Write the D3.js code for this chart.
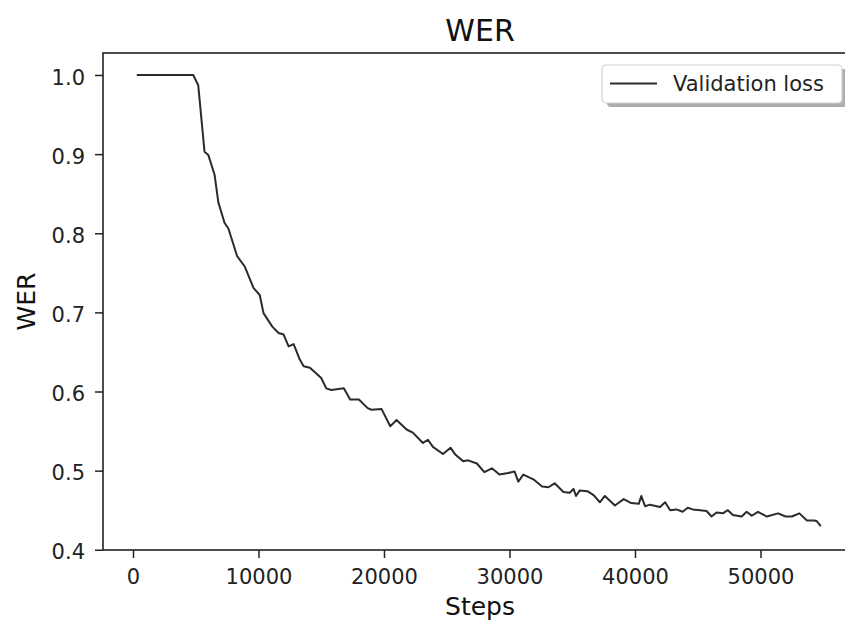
<!DOCTYPE html>
<html>
<head>
<meta charset="utf-8">
<script src="https://cdn.jsdelivr.net/npm/d3@7"></script>
<style>
  body { margin: 0; background: #fff; }
  svg { display: block; font-family: "DejaVu Sans", sans-serif; }
</style>
</head>
<body>
<div class="chart"></div>
<script>
// chart size and plot box
const width = 845;
const height = 621;
const margin = { top: 53, right: -12, bottom: 71, left: 103 };

// validation WER
const steps = [300, 4800, 5200, 5700, 6000, 6500, 6800, 7300, 7600, 8300, 8900, 9600,
  10100, 10400, 11100, 11600, 12000, 12400, 12800, 13300, 13600, 14100, 15000, 15400,
  15800, 16800, 17300, 18000, 18700, 19000, 19800, 20500, 21000, 21800, 22300, 23100,
  23500, 23900, 24700, 25300, 25700, 26300, 26700, 27400, 28000, 28600, 29200, 29900,
  30400, 30700, 31100, 31900, 32600, 33100, 33600, 34300, 34800, 35100, 35300, 35600,
  36200, 36700, 37200, 37600, 38400, 39100, 39700, 40300, 40500, 40800, 41200, 42000,
  42400, 42800, 43300, 43800, 44200, 44600, 45200, 45700, 46100, 46500, 47000, 47400,
  47800, 48500, 48900, 49300, 49800, 50500, 51400, 52000, 52500, 53100, 53700, 54300,
  54500, 54800];
const wer = [1.0, 1.0, 0.987, 0.903, 0.899, 0.874, 0.839, 0.813, 0.806, 0.771, 0.758, 0.731,
  0.722, 0.699, 0.682, 0.674, 0.672, 0.657, 0.660, 0.640, 0.632, 0.630, 0.617, 0.604,
  0.602, 0.604, 0.590, 0.590, 0.579, 0.577, 0.578, 0.556, 0.564, 0.552, 0.548, 0.535,
  0.539, 0.530, 0.521, 0.529, 0.520, 0.512, 0.513, 0.509, 0.498, 0.503, 0.495, 0.497,
  0.499, 0.486, 0.495, 0.489, 0.480, 0.479, 0.484, 0.473, 0.472, 0.477, 0.468, 0.475,
  0.474, 0.469, 0.460, 0.468, 0.456, 0.464, 0.459, 0.458, 0.468, 0.455, 0.457, 0.454,
  0.460, 0.450, 0.451, 0.448, 0.453, 0.451, 0.450, 0.449, 0.442, 0.447, 0.446, 0.450,
  0.444, 0.442, 0.448, 0.443, 0.448, 0.442, 0.446, 0.442, 0.442, 0.446, 0.437, 0.437,
  0.436, 0.430];

const xTicks = [0, 10000, 20000, 30000, 40000, 50000];
const yTicks = [0.4, 0.5, 0.6, 0.7, 0.8, 0.9, 1.0];

const seriesName = "Validation loss";
const ink = "#222";

const data = steps.map((s, i) => ({ step: s, wer: wer[i] }));

const svg = d3.select('.chart')
  .append('svg')
  .attr('width', width)
  .attr('height', height);

const x = d3.scaleLinear()
  .domain([-2390, 57690])
  .range([margin.left, width - margin.right]);

const y = d3.scaleLinear()
  .domain([0.3997, 1.0278])
  .range([height - margin.bottom, margin.top]);

// axes
svg.append('g')
  .attr('transform', `translate(0, ${height - margin.bottom})`)
  .call(d3.axisBottom(x).tickValues(xTicks).tickFormat(d3.format('d'))
    .tickSize(8).tickSizeOuter(0).tickPadding(11))
  .call(g => g.select('.domain').remove())
  .call(g => g.selectAll('line').attr('stroke', ink).attr('stroke-width', 1.5))
  .call(g => g.selectAll('text').attr('fill', ink).style('font-size', '21px')
    .style('font-family', '"DejaVu Sans", sans-serif'));

svg.append('g')
  .attr('transform', `translate(${margin.left}, 0)`)
  .call(d3.axisLeft(y).tickValues(yTicks).tickFormat(d3.format('.1f'))
    .tickSize(8).tickSizeOuter(0).tickPadding(10))
  .call(g => g.select('.domain').remove())
  .call(g => g.selectAll('line').attr('stroke', ink).attr('stroke-width', 1.5))
  .call(g => g.selectAll('text').attr('fill', ink).attr('dy', '0.43em').style('font-size', '21px')
    .style('font-family', '"DejaVu Sans", sans-serif'));

// the curve
const line = d3.line()
  .x(d => x(d.step))
  .y(d => y(d.wer));

svg.append('path')
  .datum(data)
  .attr('fill', 'none')
  .attr('stroke', '#2b2b2b')
  .attr('stroke-width', 2)
  .attr('stroke-linejoin', 'round')
  .attr('d', line);

// spines
svg.append('rect')
  .attr('x', margin.left)
  .attr('y', margin.top)
  .attr('width', width - margin.right - margin.left)
  .attr('height', height - margin.bottom - margin.top)
  .attr('fill', 'none')
  .attr('stroke', ink)
  .attr('stroke-width', 1.6);

// titles
const cx = (margin.left + width - margin.right) / 2;
svg.append('text')
  .attr('x', cx)
  .attr('y', 41)
  .attr('text-anchor', 'middle')
  .attr('fill', '#111')
  .style('font-size', '30px')
  .text('WER');

svg.append('text')
  .attr('x', cx)
  .attr('y', 615)
  .attr('text-anchor', 'middle')
  .attr('fill', '#111')
  .style('font-size', '25px')
  .text('Steps');

svg.append('text')
  .attr('transform', `translate(35, ${(margin.top + height - margin.bottom) / 2}) rotate(-90)`)
  .attr('text-anchor', 'middle')
  .attr('fill', '#111')
  .style('font-size', '25px')
  .text('WER');

// legend
const legend = svg.append('g').attr('transform', 'translate(602, 65)');
legend.append('rect')
  .attr('x', 5).attr('y', 4)
  .attr('width', 240).attr('height', 38)
  .attr('rx', 4)
  .attr('fill', '#777')
  .attr('opacity', 0.6);
legend.append('rect')
  .attr('width', 240).attr('height', 38)
  .attr('rx', 4)
  .attr('fill', '#fff')
  .attr('stroke', '#d0d0d0')
  .attr('stroke-width', 1.2);
legend.append('line')
  .attr('x1', 8).attr('x2', 55)
  .attr('y1', 18.5).attr('y2', 18.5)
  .attr('stroke', '#2b2b2b')
  .attr('stroke-width', 2);
legend.append('text')
  .attr('x', 71)
  .attr('y', 26)
  .attr('fill', ink)
  .style('font-size', '21px')
  .text(seriesName);
</script>
</body>
</html>
